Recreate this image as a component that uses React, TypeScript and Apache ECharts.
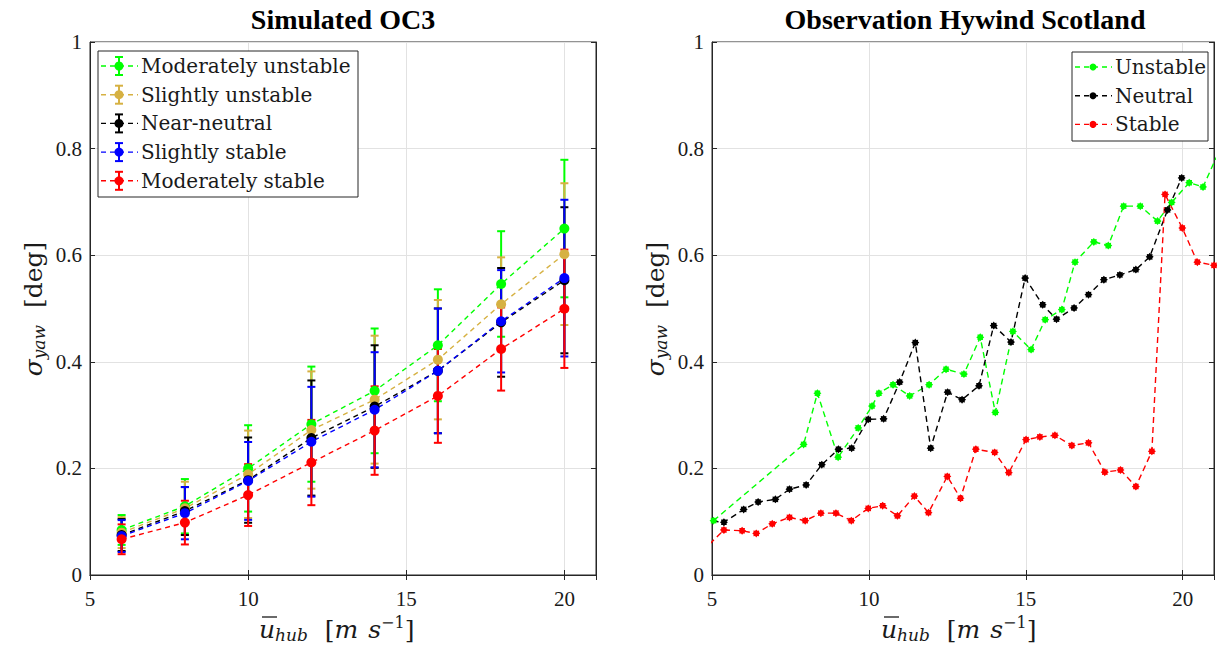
import React, { useEffect, useRef } from "react";
import * as echarts from "echarts";

// ---------- Left panel: Simulated OC3 ----------
const simWind = [6, 8, 10, 12, 14, 16, 18, 20];
const modUnstableMean = [0.0845, 0.129, 0.2, 0.283, 0.3455, 0.431, 0.546, 0.65];
const modUnstableErr = [0.028, 0.051, 0.081, 0.108, 0.117, 0.105, 0.099, 0.129];
const slUnstableMean = [0.0795, 0.125, 0.189, 0.272, 0.329, 0.404, 0.508, 0.602];
const slUnstableErr = [0.029, 0.05, 0.082, 0.11, 0.12, 0.112, 0.088, 0.133];
const nearNeutralMean = [0.075, 0.12, 0.178, 0.257, 0.316, 0.383, 0.474, 0.553];
const nearNeutralErr = [0.03, 0.045, 0.08, 0.108, 0.115, 0.117, 0.102, 0.137];
const slStableMean = [0.073, 0.116, 0.1765, 0.25, 0.31, 0.383, 0.476, 0.557];
const slStableErr = [0.03, 0.049, 0.073, 0.103, 0.108, 0.117, 0.096, 0.147];
const modStableMean = [0.067, 0.0983, 0.15, 0.211, 0.271, 0.336, 0.424, 0.4995];
const modStableErr = [0.028, 0.041, 0.058, 0.08, 0.083, 0.088, 0.078, 0.111];
const simNames = ["Moderately unstable", "Slightly unstable", "Near-neutral", "Slightly stable", "Moderately stable"];
const simColors = ["#00ff00", "#d6b142", "#000000", "#0000ff", "#ff0000"];

// ---------- Right panel: Observation Hywind Scotland ----------
const unstableX = [5.05, 7.92, 8.36, 9.02, 9.66, 10.1, 10.32, 10.77, 11.3, 11.92, 12.46, 13.03, 13.55, 14.03, 14.59, 15.17, 15.62, 16.15, 16.57, 17.17, 17.63, 18.12, 18.65, 19.2, 19.65, 20.21, 20.65, 21.2];
const unstableY = [0.102, 0.245, 0.341, 0.221, 0.276, 0.317, 0.341, 0.357, 0.336, 0.357, 0.386, 0.377, 0.446, 0.305, 0.457, 0.423, 0.479, 0.498, 0.587, 0.625, 0.618, 0.692, 0.692, 0.664, 0.699, 0.736, 0.728, 0.8];
const neutralX = [4.7, 5.38, 6.01, 6.47, 7.02, 7.47, 8.0, 8.5, 9.03, 9.45, 9.98, 10.47, 10.98, 11.48, 11.97, 12.51, 12.97, 13.51, 13.98, 14.53, 14.98, 15.54, 15.98, 16.54, 17.0, 17.49, 18.0, 18.51, 18.95, 19.52, 19.97];
const neutralY = [0.103, 0.099, 0.123, 0.137, 0.142, 0.161, 0.169, 0.207, 0.236, 0.238, 0.292, 0.293, 0.362, 0.436, 0.238, 0.343, 0.329, 0.355, 0.468, 0.437, 0.557, 0.507, 0.48, 0.501, 0.526, 0.554, 0.563, 0.573, 0.597, 0.685, 0.745];
const stableX = [4.7, 5.38, 5.96, 6.41, 6.92, 7.47, 7.97, 8.47, 8.95, 9.44, 9.98, 10.44, 10.91, 11.45, 11.9, 12.5, 12.92, 13.41, 14.01, 14.46, 15.01, 15.45, 15.93, 16.47, 17.0, 17.52, 18.02, 18.51, 19.02, 19.44, 19.99, 20.47, 21.0];
const stableY = [0.045, 0.0845, 0.083, 0.078, 0.096, 0.108, 0.102, 0.116, 0.116, 0.102, 0.125, 0.13, 0.111, 0.148, 0.117, 0.185, 0.144, 0.236, 0.23, 0.192, 0.254, 0.259, 0.262, 0.243, 0.248, 0.193, 0.197, 0.166, 0.232, 0.714, 0.651, 0.587, 0.581];
const obsNames = ["Unstable", "Neutral", "Stable"];
const obsColors = ["#00ff00", "#000000", "#ff0000"];

// ---------- Axes ----------
const xTicks = { min: 5, max: 21, interval: 5 };
const yTicks = { min: 0, max: 1, interval: 0.2 };

const AX = "#262626";
const GRIDC = "#e2e2e2";
const TICKFONT = '"Liberation Serif", "Times New Roman", serif';
const TEXFONT = '"DejaVu Serif", serif';
const TXT = "#1a1a1a";

const starPath = (() => {
  let d = "";
  for (let i = 0; i < 16; i++) {
    const r = i % 2 === 0 ? 1 : 0.72;
    const a = (i * Math.PI) / 8 - Math.PI / 2;
    d += (i ? "L" : "M") + (50 + 50 * r * Math.cos(a)).toFixed(1) + " " + (50 + 50 * r * Math.sin(a)).toFixed(1);
  }
  return "path://" + d + "Z";
})();

function errorSeries(name: string, color: string, xs: number[], ms: number[], es: number[]) {
  return {
    type: "custom",
    name,
    xAxisIndex: 0,
    yAxisIndex: 0,
    clip: true,
    silent: true,
    data: xs.map((x, i) => [x, ms[i] - es[i], ms[i] + es[i]]),
    encode: { x: 0, y: [1, 2] },
    renderItem: (params: any, api: any) => {
      const x = api.value(0);
      const lo = api.coord([x, api.value(1)]);
      const hi = api.coord([x, api.value(2)]);
      const hw = 4;
      const st = { stroke: color, lineWidth: 2 };
      return {
        type: "group",
        children: [
          { type: "line", shape: { x1: lo[0], y1: lo[1], x2: hi[0], y2: hi[1] }, style: st },
          { type: "line", shape: { x1: lo[0] - hw, y1: lo[1], x2: lo[0] + hw, y2: lo[1] }, style: st },
          { type: "line", shape: { x1: hi[0] - hw, y1: hi[1], x2: hi[0] + hw, y2: hi[1] }, style: st },
        ],
      };
    },
  };
}

function meanSeries(name: string, color: string, xs: number[], ms: number[]) {
  return {
    type: "line",
    name,
    xAxisIndex: 0,
    yAxisIndex: 0,
    data: xs.map((x, i) => [x, ms[i]]),
    symbol: "circle",
    symbolSize: 10,
    clip: true,
    itemStyle: { color },
    lineStyle: { color, width: 1.4, type: [5, 4] },
  };
}

function obsSeries(name: string, color: string, xs: number[], ys: number[]) {
  return {
    type: "line",
    name,
    xAxisIndex: 2,
    yAxisIndex: 2,
    data: xs.map((x, i) => [x, ys[i]]),
    symbol: starPath,
    symbolSize: 8,
    clip: true,
    itemStyle: { color },
    lineStyle: { color, width: 1.4, type: [6, 4] },
  };
}

function xAxisDef(gridIndex: number, top: boolean) {
  return {
    type: "value",
    gridIndex,
    position: top ? "top" : "bottom",
    ...xTicks,
    axisLine: { show: true, lineStyle: { color: AX, width: 1 } },
    axisTick: { show: true, inside: true, length: 5, lineStyle: { color: AX } },
    axisLabel: {
      show: !top,
      margin: 13,
      color: TXT,
      fontFamily: TICKFONT,
      fontSize: 21,
      formatter: (v: number) => (v === 21 ? "" : String(v)),
    },
    splitLine: { show: !top, lineStyle: { color: GRIDC, width: 1 } },
  };
}

function yAxisDef(gridIndex: number, right: boolean) {
  return {
    type: "value",
    gridIndex,
    position: right ? "right" : "left",
    ...yTicks,
    axisLine: { show: true, lineStyle: { color: AX, width: 1 } },
    axisTick: { show: true, inside: true, length: 5, lineStyle: { color: AX } },
    axisLabel: { show: !right, margin: 8, color: TXT, fontFamily: TICKFONT, fontSize: 21 },
    splitLine: { show: !right, lineStyle: { color: GRIDC, width: 1 } },
  };
}

const richTex = {
  i: { fontFamily: TEXFONT, fontStyle: "italic", fontSize: 25, fill: TXT, lineHeight: 30 },
  sub: { fontFamily: TEXFONT, fontStyle: "italic", fontSize: 17, fill: TXT, lineHeight: 17, padding: [12, 0, 0, 0] },
  sup: { fontFamily: TEXFONT, fontSize: 16, fill: TXT, lineHeight: 16, padding: [0, 0, 14, 0] },
  r: { fontFamily: TEXFONT, fontSize: 25, fill: TXT, lineHeight: 30 },
  rp: { fontFamily: TEXFONT, fontSize: 25, fill: TXT, lineHeight: 30, padding: [0, 0, 0, 9] },
  ip: { fontFamily: TEXFONT, fontStyle: "italic", fontSize: 25, fill: TXT, lineHeight: 30, padding: [0, 0, 0, 10] },
};

function textEl(x: number, y: number, text: string, extra: any = {}, styleExtra: any = {}) {
  return {
    type: "text",
    x,
    y,
    z: 100,
    ...extra,
    style: {
      text,
      textAlign: "center",
      align: "center",
      textVerticalAlign: "middle",
      verticalAlign: "middle",
      fill: "#000",
      ...styleExtra,
    },
  };
}

function yName(cx: number) {
  return textEl(cx, 309, "{i|σ}{sub|yaw}{rp| [deg]}", { rotation: Math.PI / 2 }, { rich: richTex });
}

function xName(left: number) {
  const cy = 629;
  return {
    type: "group",
    z: 100,
    children: [
      textEl(left, cy, "{i|u}{sub|hub}{rp| [}{i|m}{ip|s}{sup|−1}{r|]}", {}, { rich: richTex, textAlign: "left", align: "left" }),
      { type: "line", z: 100, shape: { x1: left + 3, y1: cy - 12, x2: left + 18, y2: cy - 12 }, style: { stroke: TXT, lineWidth: 1.3 } },
    ],
  };
}

function simLegend() {
  const x0 = 98, y0 = 51, w = 260, h = 146;
  const els: any[] = [
    { type: "rect", z: 100, shape: { x: x0, y: y0, width: w, height: h }, style: { fill: "#fff", stroke: AX, lineWidth: 1 } },
  ];
  simNames.forEach((nm, i) => {
    const cy = y0 + 15 + i * 28.7;
    const c = simColors[i];
    const st = { stroke: c, lineWidth: 2 };
    els.push({ type: "line", z: 101, shape: { x1: x0 + 3, y1: cy, x2: x0 + 40, y2: cy }, style: { stroke: c, lineWidth: 1.4, lineDash: [5, 4] } });
    els.push({ type: "line", z: 101, shape: { x1: x0 + 21, y1: cy - 9, x2: x0 + 21, y2: cy + 9 }, style: st });
    els.push({ type: "line", z: 101, shape: { x1: x0 + 17, y1: cy - 9, x2: x0 + 25, y2: cy - 9 }, style: st });
    els.push({ type: "line", z: 101, shape: { x1: x0 + 17, y1: cy + 9, x2: x0 + 25, y2: cy + 9 }, style: st });
    els.push({ type: "circle", z: 102, shape: { cx: x0 + 21, cy, r: 4.5 }, style: { fill: c } });
    els.push(textEl(x0 + 43, cy, nm, { z: 102 }, { textAlign: "left", align: "left", font: `20px ${TEXFONT}`, fill: TXT }));
  });
  return els;
}

function obsLegend() {
  const x0 = 1072, y0 = 52, w = 136, h = 89;
  const els: any[] = [
    { type: "rect", z: 100, shape: { x: x0, y: y0, width: w, height: h }, style: { fill: "#fff", stroke: AX, lineWidth: 1 } },
  ];
  obsNames.forEach((nm, i) => {
    const cy = y0 + 15 + i * 28.7;
    const c = obsColors[i];
    els.push({ type: "line", z: 101, shape: { x1: x0 + 3, y1: cy, x2: x0 + 40, y2: cy }, style: { stroke: c, lineWidth: 1.4, lineDash: [5, 4] } });
    els.push({ type: "circle", z: 102, shape: { cx: x0 + 21, cy, r: 3.5 }, style: { fill: c } });
    els.push(textEl(x0 + 43, cy, nm, { z: 102 }, { textAlign: "left", align: "left", font: `20px ${TEXFONT}`, fill: TXT }));
  });
  return els;
}

export default function App() {
  const ref = useRef<HTMLDivElement>(null);
  useEffect(() => {
    if (!ref.current) return;
    const chart = echarts.init(ref.current, null, { renderer: "svg" });
    const simMeans = [modUnstableMean, slUnstableMean, nearNeutralMean, slStableMean, modStableMean];
    const simErrs = [modUnstableErr, slUnstableErr, nearNeutralErr, slStableErr, modStableErr];
    const series: any[] = [];
    simNames.forEach((nm, i) => {
      series.push(errorSeries(nm + " err", simColors[i], simWind, simMeans[i], simErrs[i]));
      series.push(meanSeries(nm, simColors[i], simWind, simMeans[i]));
    });
    series.push(obsSeries(obsNames[0], obsColors[0], unstableX, unstableY));
    series.push(obsSeries(obsNames[1], obsColors[1], neutralX, neutralY));
    series.push(obsSeries(obsNames[2], obsColors[2], stableX, stableY));

    chart.setOption({
      animation: false,
      backgroundColor: "#ffffff",
      grid: [
        { left: 90, top: 42, width: 506, height: 533, show: true, borderColor: AX, borderWidth: 1, backgroundColor: "transparent" },
        { left: 712, top: 42, width: 506, height: 533, show: true, borderColor: AX, borderWidth: 1, backgroundColor: "transparent" },
      ],
      xAxis: [xAxisDef(0, false), xAxisDef(0, true), xAxisDef(1, false), xAxisDef(1, true)],
      yAxis: [yAxisDef(0, false), yAxisDef(0, true), yAxisDef(1, false), yAxisDef(1, true)],
      series,
      graphic: [
        textEl(343, 19, "Simulated OC3", {}, { font: `bold 28px "Liberation Serif", serif`, fill: "#000" }),
        textEl(965, 19, "Observation Hywind Scotland", {}, { font: `bold 28px "Liberation Serif", serif`, fill: "#000" }),
        yName(33),
        yName(655),
        xName(259),
        xName(881),
        ...simLegend(),
        ...obsLegend(),
      ],
    });
    return () => chart.dispose();
  }, []);
  return <div ref={ref} style={{ position: "absolute", left: 0, top: 0, width: 1217, height: 646 }} />;
}
